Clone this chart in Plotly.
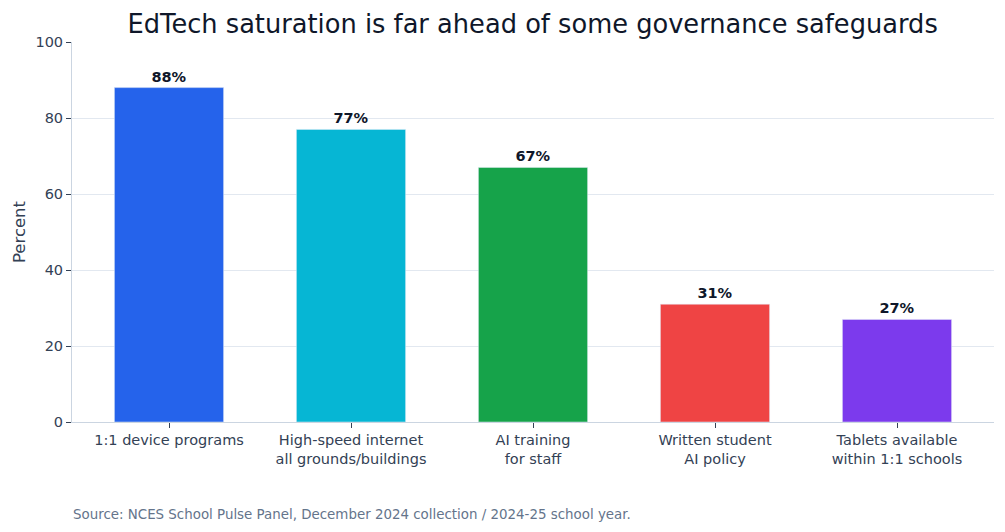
import plotly.graph_objects as go

categories = ["1:1 device programs", "High-speed internet<br>all grounds/buildings",
              "AI training<br>for staff", "Written student<br>AI policy",
              "Tablets available<br>within 1:1 schools"]
values = [88, 77, 67, 31, 27]
labels = ["88%", "77%", "67%", "31%", "27%"]
colors = ["#2563eb", "#06b6d4", "#16a34a", "#ef4444", "#7c3aed"]

fig = go.Figure(go.Bar(
    x=categories, y=values, marker_color=colors, width=0.6,
    text=labels, textposition="outside", cliponaxis=False,
    textfont=dict(family="DejaVu Sans", size=14.5, color="#0f172a", weight="bold"),
))

fig.update_layout(
    width=1005, height=532,
    margin=dict(l=72, r=11, t=42, b=110),
    paper_bgcolor="white", plot_bgcolor="white",
    font=dict(family="DejaVu Sans", color="#334155", size=14.5),
    title=dict(text="EdTech saturation is far ahead of some governance safeguards",
               x=0.53, xanchor="center", y=0.955, yanchor="middle",
               font=dict(size=25.7, color="#0f172a")),
    showlegend=False,
    annotations=[dict(text="Source: NCES School Pulse Panel, December 2024 collection / 2024-25 school year.",
                      xref="paper", yref="paper", x=-0.001, y=-0.243, xanchor="left", yanchor="middle",
                      showarrow=False, font=dict(size=13.4, color="#64748b"))],
)
fig.update_yaxes(range=[0, 100], dtick=20, automargin=False,
                 title=dict(text="Percent", font=dict(size=16.5), standoff=5),
                 gridcolor="#e2e8f0", showline=True, linecolor="#cbd5e1",
                 ticks="outside", ticklen=5, tickcolor="#334155", zeroline=False)
fig.update_xaxes(range=[-0.533, 4.533], automargin=False,
                 showline=True, linecolor="#cbd5e1", ticks="outside", ticklen=5,
                 tickcolor="#334155")

fig.write_html("out.html")
